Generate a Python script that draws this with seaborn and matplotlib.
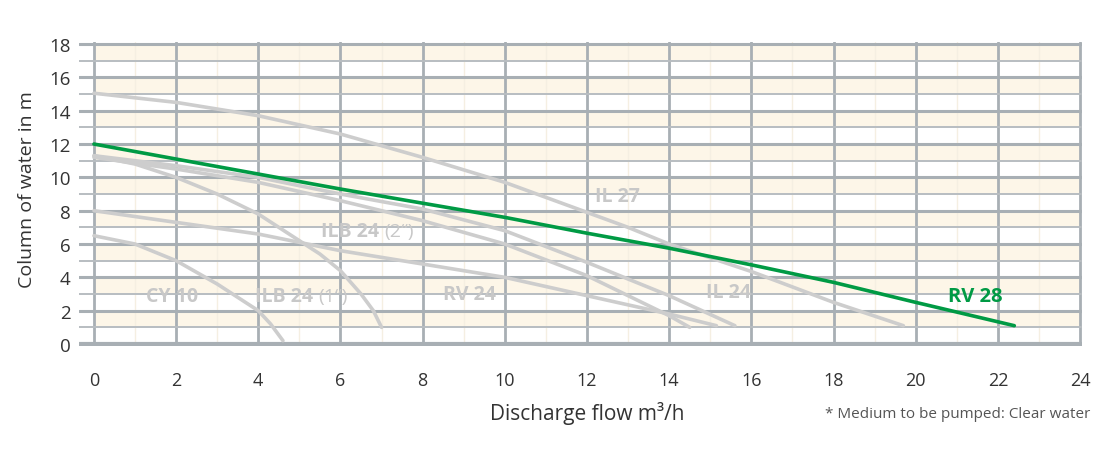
import numpy as np
import pandas as pd
import seaborn as sns
import matplotlib.pyplot as plt

sns.set_style('white')
plt.rcParams['font.family'] = ['Open Sans', 'DejaVu Sans']

# pump curves (flow m3/h, head m)
cy10_q = [0, 1, 2, 3, 3.5, 4, 4.3, 4.6]
cy10_h = [6.5, 6.0, 5.0, 3.6, 2.8, 2.0, 1.2, 0.2]

ilb1_q = [0, 1, 2, 3, 4, 5, 5.5, 6, 6.5, 6.8, 7.0]
ilb1_h = [11.3, 10.8, 10.0, 9.0, 7.8, 6.2, 5.4, 4.4, 3.0, 2.0, 1.0]

ilb2_q = [0, 2, 4, 6, 8, 10, 12, 13, 14, 14.5]
ilb2_h = [11.2, 10.5, 9.7, 8.6, 7.4, 6.0, 4.1, 2.9, 1.7, 1.0]

il24_q = [0, 2, 4, 6, 8, 10, 12, 14, 15.6]
il24_h = [11.3, 10.7, 10.0, 9.0, 8.1, 6.8, 4.9, 2.9, 1.1]

rv24_q = [0, 2, 4, 6, 8, 10, 12, 14, 15.15]
rv24_h = [8.0, 7.3, 6.6, 5.6, 4.8, 4.0, 2.9, 1.8, 1.1]

il27_q = [0, 2, 4, 6, 8, 10, 12, 13, 14, 16, 18, 19.7]
il27_h = [15.05, 14.5, 13.7, 12.6, 11.2, 9.7, 7.9, 7.0, 6.0, 4.35, 2.5, 1.1]

rv28_q = [0, 2, 4, 6, 8, 10, 12, 14, 16, 18, 20, 22.4]
rv28_h = [12.0, 11.1, 10.2, 9.3, 8.45, 7.6, 6.65, 5.75, 4.75, 3.7, 2.5, 1.1]

# curve labels: bold name, lighter suffix, anchor where the two parts meet
label_names = ['CY 10', 'ILB 24', 'ILB 24', 'RV 24', 'IL 24', 'IL 27']
label_suffix = ['', '(1“)', '(2“)', '', '', '']
label_q = [1.9, 5.45, 7.06, 9.15, 15.45, 12.75]
label_h = [2.9, 2.9, 6.8, 3.0, 3.1, 8.9]

GRID = '#a8afb4'
CREAM = '#fdf6e8'
GREY = '#cdcdcd'
LABEL = '#c8c8c8'
GREEN = '#009a44'

fig = plt.figure(figsize=(11.15, 4.52), dpi=100)
ax = fig.add_axes([0.071, 0.233, 0.8995, 0.671])

# cream bands
band_y = np.arange(1.5, 18, 2)
ax.barh(band_y, width=24, left=0, height=1, color=CREAM, zorder=0)

ax.set_xlim(-0.36, 24.05)
ax.set_ylim(-0.1, 18.1)
ax.set_xticks(np.arange(0, 25, 2))
ax.set_xticks(np.arange(1, 24, 2), minor=True)
ax.set_yticks(np.arange(0, 19, 2))
ax.set_yticks(np.arange(1, 18, 2), minor=True)

ax.set_axisbelow(True)
ax.grid(axis='y', which='major', color=GRID, lw=2.2, zorder=0.5)
ax.grid(axis='y', which='minor', color='#b8bdc1', lw=1.4, zorder=0.5)
ax.grid(axis='x', which='major', color=GRID, lw=2.0, zorder=0.5)
ax.grid(axis='x', which='minor', color='#f5efe2', lw=1.0, zorder=0.4)
ax.axhline(0, color=GRID, lw=3.0, zorder=0.6)

for s in ax.spines.values():
    s.set_visible(False)

ax.tick_params(axis='y', which='both', length=0, pad=6, labelsize=13.5, labelcolor='#333333')
ax.tick_params(axis='x', which='major', length=12, width=1.6, color=GRID, pad=6,
               labelsize=13, labelcolor='#333333')
ax.tick_params(axis='x', which='minor', length=12, width=1.2, color='#c3c7ca')

curves = [(cy10_q, cy10_h), (ilb1_q, ilb1_h), (ilb2_q, ilb2_h),
          (il24_q, il24_h), (rv24_q, rv24_h), (il27_q, il27_h)]
for q, h in curves:
    sns.lineplot(x=q, y=h, sort=False, estimator=None, color=GREY, lw=2.6,
                 ax=ax, zorder=3)
sns.lineplot(x=rv28_q, y=rv28_h, sort=False, estimator=None, color=GREEN,
             lw=2.6, ax=ax, zorder=4)

for name, suf, q, h in zip(label_names, label_suffix, label_q, label_h):
    if suf:
        ax.text(q, h, name + ' ', ha='right', va='center', fontsize=14,
                fontweight='bold', color=LABEL, zorder=5)
        ax.text(q, h, suf, ha='left', va='center', fontsize=14,
                color=LABEL, zorder=5)
    else:
        ax.text(q, h, name, ha='center', va='center', fontsize=14,
                fontweight='bold', color=LABEL, zorder=5)
ax.text(21.45, 2.9, 'RV 28', ha='center', va='center', fontsize=14.5,
        fontweight='bold', color=GREEN, zorder=5)

ax.set_xlabel('')
ax.set_ylabel('')
fig.text(0.024, 0.58, 'Column of water in m', rotation=90, ha='center',
         va='center', fontsize=14, color='#333333')
fig.text(0.527, 0.086, 'Discharge flow m³/h', ha='center', va='center',
         fontsize=15, color='#333333')
fig.text(0.978, 0.082, '* Medium to be pumped: Clear water', ha='right',
         va='center', fontsize=11, color='#555555')

fig.savefig('out.png', dpi=100)
